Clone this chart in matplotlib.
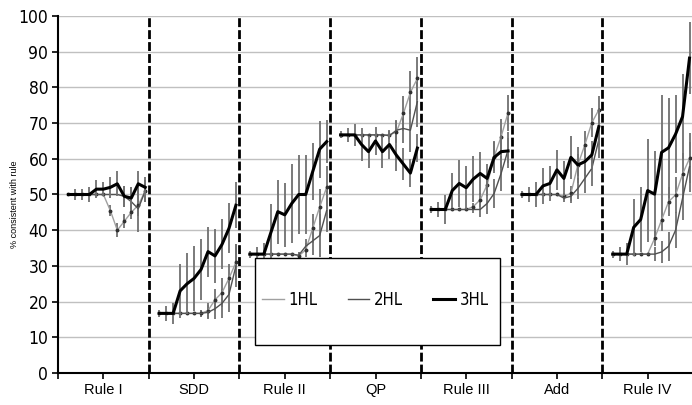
import numpy as np
import matplotlib
matplotlib.use("Agg")
import matplotlib.pyplot as plt
from matplotlib import font_manager
from matplotlib.lines import Line2D

# condensed Arial-like look if one is installed
narrow = None
for f in font_manager.fontManager.ttflist:
    fn = f.fname.lower()
    if "liberationsansnarrow-regular" in fn or "dejavusanscondensed.ttf" in fn:
        narrow = font_manager.FontProperties(fname=f.fname)
        if "liberation" in fn:
            break
if narrow is None:
    narrow = font_manager.FontProperties(family="Liberation Sans")

groups = ["Rule I", "SDD", "Rule II", "QP", "Rule III", "Add", "Rule IV"]

# 3HL
hl3 = [
    [50, 50, 50, 50, 51.5, 51.5, 52, 53, 49.5, 49, 53, 52],
    [16.7, 16.7, 16.7, 23, 25, 26.5, 29, 34, 32.8, 36, 40.5, 47],
    [33.3, 33.3, 33.3, 39.3, 45.2, 44.3, 47.5, 50, 50, 56.4, 62.7, 64.8],
    [66.7, 66.7, 66.7, 64, 62, 65, 62, 64, 61, 58.5, 56, 63],
    [45.8, 45.8, 45.8, 51.1, 53.1, 51.9, 54.3, 55.9, 54.5, 60.4, 62, 62.2],
    [50, 50, 50, 52.4, 53.1, 56.9, 54.5, 60.4, 58.3, 59.2, 61.1, 69],
    [33.3, 33.3, 33.3, 40.8, 43, 51.1, 50.1, 61.8, 63.1, 66.9, 71.8, 88.2],
]
err3 = [
    [0, 1.5, 1.5, 2, 2.5, 2, 3, 3.5, 3, 3, 3.5, 3],
    [1, 2, 3, 7.5, 8.5, 9, 8.5, 7, 7.5, 7, 7, 6.5],
    [1, 2, 3, 8, 9, 9, 11, 11, 11, 8, 8, 6],
    [1, 2, 3, 4.5, 4.5, 4, 4.5, 4, 4.5, 4.5, 4, 4],
    [1, 2, 4, 5, 6.5, 6, 6.5, 6, 4, 4.5, 4.5, 3.5],
    [1, 2, 3.5, 5, 5, 5.6, 5, 6, 5, 4, 4, 5],
    [1, 2, 3, 8, 9, 14.5, 12, 16, 14, 11, 12, 10],
]

# 2HL
hl2 = [
    [50, 50, 50, 50, 50, 50, 50, 50, 49.5, 48, 46, 51],
    [16.7, 16.7, 16.7, 16.7, 16.7, 16.7, 16.7, 17, 18, 19.5, 22, 30],
    [33.3, 33.3, 33.3, 33.3, 33.3, 33.3, 33.3, 33, 35.5, 37, 38.5, 45.5],
    [66.7, 66.7, 66.7, 66.7, 66.7, 66.7, 66.7, 66.5, 68, 68.5, 68, 76],
    [45.8, 45.8, 45.8, 45.8, 45.8, 45.8, 45.8, 45.8, 47.5, 50.3, 55.9, 62.5],
    [50, 50, 50, 50, 50, 50, 49, 49.5, 51.7, 54.5, 57.3, 65.3],
    [33.3, 33.3, 33.3, 33.3, 33.3, 33.3, 33.3, 33.9, 35.5, 40, 48.9, 57.8],
]
err2 = [
    [0, 0, 0, 0, 0, 0, 0, 0, 3, 4, 6.5, 3],
    [0, 0, 0, 0, 0, 0, 1, 2, 3, 4, 5, 6],
    [0, 0, 0, 0, 0, 0, 0, 1, 2, 4, 6, 6],
    [0, 0, 0, 0, 0, 0, 0, 1, 3, 4, 6, 7],
    [0, 0, 0, 0, 0, 0, 1, 2, 3, 4, 5, 5],
    [0, 0, 0, 0, 0, 0, 1, 2, 3, 4, 5, 5],
    [0, 0, 0, 0, 0, 0, 2, 3, 4, 5, 6, 7],
]

# 1HL
hl1 = [
    [50, 50, 50, 50, 50, 50, 45.5, 40, 42.5, 45, 47, 51],
    [16.7, 16.7, 16.7, 16.7, 16.7, 16.7, 16.7, 17.5, 20.5, 22.5, 26.5, 31],
    [33.3, 33.3, 33.3, 33.3, 33.3, 33.3, 33.3, 32.8, 34.5, 40.5, 46.5, 52],
    [66.7, 66.7, 66.7, 66.7, 66.7, 66.7, 66.7, 66.7, 67.5, 72.7, 78.6, 82.5],
    [45.8, 45.8, 45.8, 45.8, 45.8, 45.8, 46.6, 48.5, 52.7, 60.6, 66.2, 72.9],
    [50, 50, 50, 50, 50, 50, 49.5, 50.3, 58.3, 63.9, 70.1, 73.7],
    [33.3, 33.3, 33.3, 33.3, 33.3, 33.3, 37.7, 42.9, 48, 49.9, 55.7, 60.1],
]
err1 = [
    [0, 0, 0, 0, 0, 0, 1.5, 2, 2, 2, 3, 3],
    [0, 0, 0, 0, 0, 0, 1, 2, 3, 4, 4, 5],
    [0, 0, 0, 0, 0, 0, 0, 1, 2, 4, 5, 6],
    [0, 0, 0, 0, 0, 0, 0, 1, 3, 5, 6, 6],
    [0, 0, 0, 0, 0, 0, 1, 2, 3, 4, 5, 5],
    [0, 0, 0, 0, 0, 0, 1, 2, 3, 4, 4, 4],
    [0, 0, 0, 0, 0, 0, 2, 3, 4, 5, 6, 7],
]

slots = 13  # category slots per group, slot 0 empty
fig = plt.figure(figsize=(6.92, 4.05), dpi=100)
ax = fig.add_axes([58 / 692, 32 / 405, 635 / 692, 357 / 405])

ebc = "#707070"
c1, c2 = "#a0a0a0", "#505050"
for g in range(len(groups)):
    x = g * slots + np.arange(1, 13) + 0.5
    ax.errorbar(x, hl1[g], yerr=err1[g], color=c1, lw=1.0, ecolor=ebc,
                elinewidth=1.3, capsize=0, marker="o", ms=1.8, mfc="#303030",
                mec="#303030", zorder=3)
    ax.errorbar(x, hl2[g], yerr=err2[g], color=c2, lw=1.0, ecolor=ebc,
                elinewidth=1.3, capsize=0, zorder=3)
    ax.errorbar(x, hl3[g], yerr=err3[g], color="black", lw=2.2, ecolor=ebc,
                elinewidth=1.3, capsize=0, zorder=4)

for g in range(1, len(groups)):
    ax.axvline(g * slots, color="black", lw=2, ls=(0, (3.2, 1.1)), zorder=5)

ax.set_xlim(0, slots * len(groups))
ax.set_ylim(0, 100)
ax.set_yticks(range(0, 101, 10))
ax.yaxis.grid(True, color="#c0c0c0", lw=1)
ax.set_axisbelow(True)

ticks = np.arange(0, slots * len(groups) + 0.1, slots / 2)
labels = [groups[i // 2] if i % 2 else "" for i in range(len(ticks))]
ax.set_xticks(ticks)
ax.set_xticklabels(labels)

for s in ["top", "right"]:
    ax.spines[s].set_visible(False)
for s in ["left", "bottom"]:
    ax.spines[s].set_linewidth(1.5)
ax.tick_params(axis="both", direction="out", length=4, width=1.2, pad=3)
for lab in ax.get_yticklabels():
    lab.set_fontproperties(narrow)
    lab.set_fontsize(12.5)
for lab in ax.get_xticklabels():
    lab.set_fontfamily("Liberation Sans")
    lab.set_fontsize(10.5)

fig.text(15 / 692, 1 - 204 / 405, "% consistent with rule", rotation=90,
         ha="center", va="center", fontsize=6.5, family="Liberation Sans")

# legend box
rect = plt.Rectangle((197 / 635, 28 / 357), 245 / 635, 87 / 357, transform=ax.transAxes,
                     facecolor="white", edgecolor="black", lw=1, zorder=6)
ax.add_patch(rect)
handles = [Line2D([], [], color=c1, lw=1.0),
           Line2D([], [], color=c2, lw=1.0),
           Line2D([], [], color="black", lw=2.2)]
legprop = narrow.copy()
legprop.set_size(12)
leg = ax.legend(handles, ["1HL", "2HL", "3HL"], loc="center",
                bbox_to_anchor=(0.5, 0.204), ncol=3, frameon=False,
                handlelength=1.3, columnspacing=1.8, handletextpad=0.3, prop=legprop)
leg.set_zorder(7)

fig.savefig("out.png", dpi=100)
